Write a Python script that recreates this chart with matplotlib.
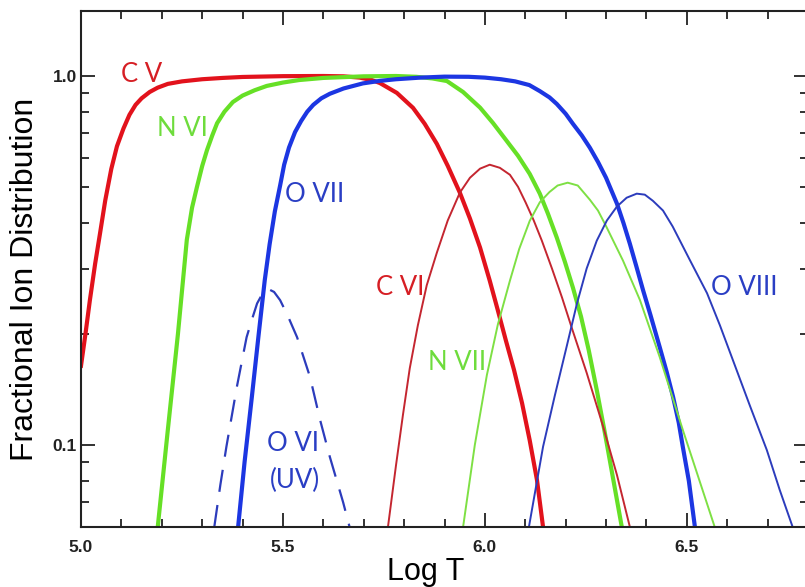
import matplotlib
matplotlib.use("Agg")
import matplotlib.pyplot as plt
from matplotlib.ticker import FixedLocator, NullFormatter, MultipleLocator, FormatStrFormatter

# ion fractions (log T, fraction)
cv_x = [5.00, 5.011, 5.022, 5.035, 5.047, 5.06, 5.075, 5.089, 5.105, 5.12, 5.135, 5.15, 5.17,
        5.19, 5.215, 5.25, 5.30, 5.35, 5.40, 5.50, 5.60, 5.65, 5.69, 5.72, 5.74, 5.782, 5.822,
        5.851, 5.881, 5.908, 5.938, 5.963, 5.988, 6.012, 6.032, 6.052, 6.072, 6.092, 6.111,
        6.129, 6.144]
cv_y = [0.164, 0.20, 0.247, 0.31, 0.374, 0.46, 0.56, 0.645, 0.72, 0.785, 0.835, 0.87, 0.905,
        0.93, 0.952, 0.967, 0.98, 0.988, 0.994, 0.999, 1.0, 0.998, 0.99, 0.975, 0.957, 0.90, 0.82,
        0.742, 0.655, 0.571, 0.483, 0.411, 0.343, 0.279, 0.232, 0.192, 0.16, 0.13, 0.103,
        0.0804, 0.06]

nvi_x = [5.19, 5.215, 5.24, 5.262, 5.275, 5.287, 5.30, 5.312, 5.325, 5.337, 5.355, 5.376,
         5.40, 5.43, 5.46, 5.50, 5.54, 5.60, 5.70, 5.78, 5.83, 5.87, 5.906, 5.946, 5.988, 6.02,
         6.054, 6.082, 6.111, 6.136, 6.156, 6.178, 6.198, 6.218, 6.238, 6.257, 6.277, 6.297,
         6.319, 6.339]
nvi_y = [0.06, 0.11, 0.20, 0.36, 0.44, 0.50, 0.57, 0.63, 0.69, 0.745, 0.80, 0.85,
         0.885, 0.915, 0.94, 0.96, 0.975, 0.988, 0.998, 1.0, 0.995, 0.985, 0.969, 0.905, 0.821, 0.746,
         0.667, 0.608, 0.543, 0.48, 0.424, 0.365, 0.314, 0.267, 0.223, 0.181, 0.141, 0.108,
         0.0794, 0.06]

ovii_x = [5.389, 5.405, 5.423, 5.44, 5.455, 5.467, 5.48, 5.493, 5.503, 5.515, 5.53, 5.545,
          5.56, 5.575, 5.595, 5.616, 5.65, 5.698, 5.74, 5.78, 5.84, 5.90, 5.96, 6.00, 6.04,
          6.075, 6.11, 6.136, 6.16, 6.178, 6.20, 6.218, 6.24, 6.26, 6.28, 6.30, 6.327, 6.343,
          6.359, 6.375, 6.392, 6.41, 6.433, 6.45, 6.466, 6.48, 6.49, 6.505, 6.52]
ovii_y = [0.06, 0.09, 0.135, 0.20, 0.28, 0.35, 0.43, 0.505, 0.575, 0.64, 0.705, 0.755,
          0.80, 0.835, 0.87, 0.895, 0.925, 0.955, 0.97, 0.98, 0.99, 0.996, 0.995, 0.99, 0.98,
          0.967, 0.945, 0.91, 0.875, 0.84, 0.79, 0.742, 0.69, 0.639, 0.585, 0.53, 0.451, 0.40,
          0.351, 0.305, 0.262, 0.225, 0.184, 0.158, 0.135, 0.115, 0.099, 0.08, 0.06]

cvi_x = [5.76, 5.78, 5.797, 5.814, 5.834, 5.856, 5.881, 5.908, 5.938, 5.963, 5.988, 6.012,
         6.037, 6.062, 6.082, 6.101, 6.121, 6.141, 6.166, 6.191, 6.215, 6.252, 6.292, 6.327,
         6.359]
cvi_y = [0.06, 0.0883, 0.1205, 0.1615, 0.211, 0.271, 0.332, 0.406, 0.483, 0.53, 0.561, 0.575,
         0.564, 0.54, 0.501, 0.454, 0.406, 0.358, 0.301, 0.251, 0.208, 0.157, 0.113, 0.083,
         0.06]

nvii_x = [5.946, 5.975, 6.005, 6.032, 6.062, 6.085, 6.111, 6.136, 6.16, 6.18, 6.205, 6.23,
          6.26, 6.28, 6.30, 6.342, 6.384, 6.433, 6.49, 6.569]
nvii_y = [0.06, 0.10, 0.155, 0.212, 0.279, 0.34, 0.405, 0.455, 0.485, 0.505, 0.514, 0.505,
          0.462, 0.432, 0.392, 0.316, 0.247, 0.173, 0.11, 0.06]

oviii_x = [6.109, 6.144, 6.173, 6.203, 6.228, 6.252, 6.277, 6.302, 6.327, 6.351, 6.376,
           6.396, 6.416, 6.441, 6.465, 6.507, 6.55, 6.582, 6.614, 6.656, 6.698, 6.73, 6.762]
oviii_y = [0.06, 0.099, 0.136, 0.186, 0.242, 0.301, 0.358, 0.406, 0.443, 0.468, 0.48,
           0.477, 0.459, 0.432, 0.391, 0.318, 0.258, 0.211, 0.17, 0.128, 0.097, 0.0756, 0.06]

ovi_x = [5.33, 5.345, 5.36, 5.386, 5.41, 5.425, 5.436, 5.45, 5.463, 5.478, 5.493, 5.512,
         5.535, 5.567, 5.592, 5.616, 5.649, 5.665]
ovi_y = [0.06, 0.078, 0.099, 0.144, 0.196, 0.222, 0.242, 0.258, 0.265, 0.26, 0.247, 0.224,
         0.196, 0.153, 0.117, 0.093, 0.07, 0.06]

RED, RED_T = "#e2121c", "#c42630"
GREEN, GREEN_T = "#66e026", "#7ee044"
BLUE, BLUE_T = "#1c36e2", "#2c3cbc"

fig = plt.figure(figsize=(8.05, 5.87), dpi=100)
ax = fig.add_axes([81 / 805, 1 - 527 / 587, 727 / 805, 516 / 587])

# thick: He-like ions, thin: H-like ions, dashed: O VI
ax.plot(cv_x, cv_y, color=RED, lw=3.0, solid_joinstyle="round")
ax.plot(nvi_x, nvi_y, color=GREEN, lw=3.0, solid_joinstyle="round")
ax.plot(ovii_x, ovii_y, color=BLUE, lw=3.0, solid_joinstyle="round")
ax.plot(cvi_x, cvi_y, color=RED_T, lw=1.4, solid_joinstyle="round")
ax.plot(nvii_x, nvii_y, color=GREEN_T, lw=1.4, solid_joinstyle="round")
ax.plot(oviii_x, oviii_y, color=BLUE_T, lw=1.4, solid_joinstyle="round")
ax.plot(ovi_x, ovi_y, color=BLUE_T, lw=1.6, dashes=(10, 6))

ax.set_yscale("log")
ax.set_xlim(5.0, 6.8)
ax.set_ylim(0.06, 1.5)

ax.xaxis.set_major_locator(FixedLocator([5.0, 5.5, 6.0, 6.5]))
ax.xaxis.set_minor_locator(MultipleLocator(0.1))
ax.xaxis.set_major_formatter(FormatStrFormatter("%.1f"))
ax.yaxis.set_major_locator(FixedLocator([0.1, 1.0]))
ax.yaxis.set_minor_locator(FixedLocator([0.07, 0.08, 0.09, 0.2, 0.3, 0.4, 0.5, 0.6, 0.7, 0.8, 0.9]))
ax.yaxis.set_major_formatter(FormatStrFormatter("%.1f"))
ax.yaxis.set_minor_formatter(NullFormatter())

ax.tick_params(which="both", direction="in", top=True, right=True, width=1.3, color="#222222")
ax.tick_params(which="major", length=10)
ax.tick_params(which="minor", length=5.5)
ax.tick_params(axis="x", which="major", pad=9)
ax.tick_params(axis="y", which="major", pad=3)
for lab in ax.get_xticklabels() + ax.get_yticklabels():
    lab.set_fontfamily("Liberation Sans")
    lab.set_fontweight("bold")
    lab.set_fontsize(12.5)
    lab.set_color("#222222")
for s in ax.spines.values():
    s.set_linewidth(1.5)
    s.set_color("#222222")

ax.set_xlabel("Log T", fontfamily="Liberation Sans", fontsize=22)
ax.set_ylabel("Fractional Ion Distribution", fontfamily="Liberation Sans", fontsize=23)
ax.xaxis.set_label_coords(0.4746, -0.058)
ax.yaxis.set_label_coords(-0.056, 0.479)

lab_kw = dict(fontfamily="Lato", fontsize=18.5, ha="center", va="center")
ax.text(5.151, 1.012, "C V", color="#d61e24", **lab_kw)
ax.text(5.252, 0.719, "N VI", color="#6edc3c", **lab_kw)
ax.text(5.579, 0.477, "O VII", color="#2a3ec4", **lab_kw)
ax.text(5.79, 0.267, "C VI", color="#d61e24", **lab_kw)
ax.text(5.931, 0.1676, "N VII", color="#6edc3c", **lab_kw)
ax.text(6.641, 0.267, "O VIII", color="#2a3ec4", **lab_kw)
ax.text(5.525, 0.1007, "O VI", color="#2a3ec4", **lab_kw)
ax.text(5.53, 0.080, "(UV)", color="#2a3ec4", **lab_kw)

fig.savefig("out.png", dpi=100)
